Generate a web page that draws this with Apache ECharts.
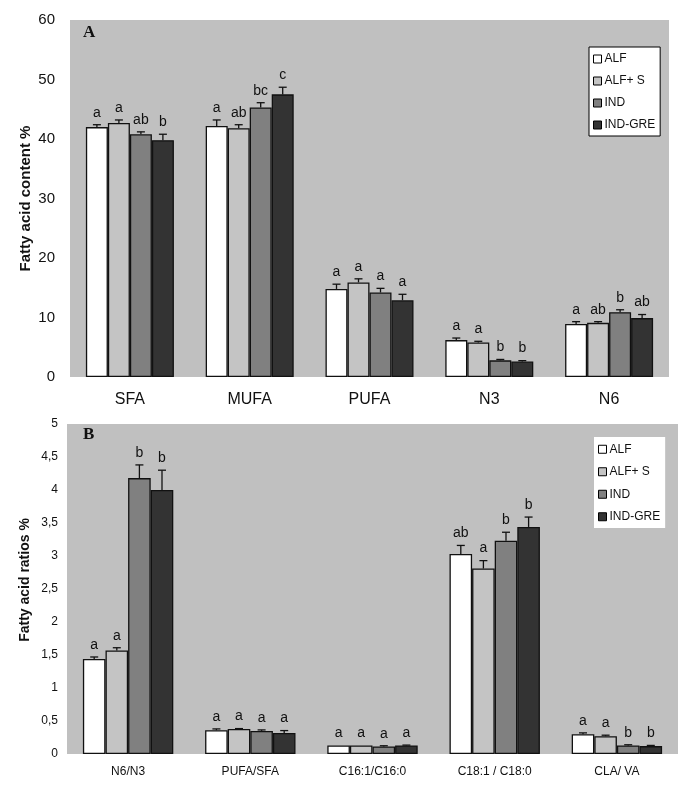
<!DOCTYPE html>
<html>
<head>
<meta charset="utf-8">
<script src="https://cdn.jsdelivr.net/npm/echarts@6/dist/echarts.min.js"></script>
<style>html,body{margin:0;padding:0;background:#fff}#c{width:685px;height:789px}</style>
</head>
<body>
<div id="c"></div>
<script>
// ---------- Data ----------
const groupNames = ['ALF', 'ALF+ S', 'IND', 'IND-GRE'];

// Panel A: fatty acid content %
const categoriesA = ['SFA', 'MUFA', 'PUFA', 'N3', 'N6'];
const alfA    = [42.0, 42.2, 14.8, 6.2, 8.9];
const alfSA   = [42.7, 41.8, 15.9, 5.8, 9.1];
const indA    = [40.8, 45.3, 14.2, 2.8, 10.9];
const indGreA = [39.8, 47.5, 12.9, 2.6, 9.9];
const errAlfA    = [0.4, 1.0, 0.8, 0.35, 0.4];
const errAlfSA   = [0.5, 0.6, 0.6, 0.2, 0.2];
const errIndA    = [0.4, 0.8, 0.7, 0.15, 0.4];
const errIndGreA = [1.0, 1.2, 1.0, 0.15, 0.6];
const letAlfA    = ['a', 'a', 'a', 'a', 'a'];
const letAlfSA   = ['a', 'ab', 'a', 'a', 'ab'];
const letIndA    = ['ab', 'bc', 'a', 'b', 'b'];
const letIndGreA = ['b', 'c', 'a', 'b', 'ab'];
const ticksA = [0, 10, 20, 30, 40, 50, 60];

// Panel B: fatty acid ratios %
const categoriesB = ['N6/N3', 'PUFA/SFA', 'C16:1/C16:0', 'C18:1 / C18:0', 'CLA/ VA'];
const alfB    = [1.44, 0.36, 0.13, 3.03, 0.30];
const alfSB   = [1.57, 0.38, 0.13, 2.81, 0.27];
const indB    = [4.18, 0.35, 0.115, 3.23, 0.13];
const indGreB = [4.00, 0.32, 0.13, 3.44, 0.12];
const errAlfB    = [0.03, 0.02, 0.0, 0.13, 0.02];
const errAlfSB   = [0.04, 0.005, 0.0, 0.12, 0.015];
const errIndB    = [0.2, 0.015, 0.01, 0.13, 0.01];
const errIndGreB = [0.3, 0.035, 0.005, 0.15, 0.01];
const letAlfB    = ['a', 'a', 'a', 'ab', 'a'];
const letAlfSB   = ['a', 'a', 'a', 'a', 'a'];
const letIndB    = ['b', 'a', 'a', 'b', 'b'];
const letIndGreB = ['b', 'a', 'a', 'b', 'b'];
const ticksB = [0, 0.5, 1, 1.5, 2, 2.5, 3, 3.5, 4, 4.5, 5];

// ---------- Styles ----------
const colors = ['#ffffff', '#c4c4c4', '#808080', '#333333'];
const FONT = '"Liberation Sans", Arial, sans-serif';
const SERIF = '"Liberation Serif", "Times New Roman", serif';
const BW_A = 22, BW_B = 22.6;

const valsA = [alfA, alfSA, indA, indGreA];
const errsA = [errAlfA, errAlfSA, errIndA, errIndGreA];
const letsA = [letAlfA, letAlfSA, letIndA, letIndGreA];
const valsB = [alfB, alfSB, indB, indGreB];
const errsB = [errAlfB, errAlfSB, errIndB, errIndGreB];
const letsB = [letAlfB, letAlfSB, letIndB, letIndGreB];

function errRenderer(k, bw, letters) {
  return function (params, api) {
    const cat = api.value(0), v = api.value(1), e = api.value(2);
    const base = api.coord([cat, v]);
    const top = api.coord([cat, v + e]);
    const cx = base[0] + (k - 1.5) * bw;
    const children = [];
    if (e > 0) {
      children.push({ type: 'line', shape: { x1: cx, y1: base[1], x2: cx, y2: top[1] },
        style: { stroke: '#111', lineWidth: 1.3 } });
      children.push({ type: 'line', shape: { x1: cx - 4, y1: top[1], x2: cx + 4, y2: top[1] },
        style: { stroke: '#111', lineWidth: 1.3 } });
    }
    children.push({ type: 'text', x: cx, y: top[1] - 5,
      style: { text: letters[params.dataIndex], fill: '#111', font: '14px ' + FONT,
               align: 'center', verticalAlign: 'bottom' } });
    return { type: 'group', children: children };
  };
}

const series = [];
function addPanel(vals, errs, lets, axisIdx, bw) {
  vals.forEach(function (arr, k) {
    series.push({
      name: groupNames[k], type: 'bar', xAxisIndex: axisIdx, yAxisIndex: axisIdx,
      data: arr, barWidth: bw, barGap: '0%',
      itemStyle: { color: colors[k], borderColor: '#111', borderWidth: 1.3 },
      emphasis: { disabled: true }, z: 2
    });
  });
  vals.forEach(function (arr, k) {
    series.push({
      name: 'err' + axisIdx + '_' + k, type: 'custom', xAxisIndex: axisIdx, yAxisIndex: axisIdx,
      data: arr.map(function (v, i) { return [i, v, errs[k][i]]; }),
      encode: { x: 0, y: 1 }, renderItem: errRenderer(k, bw, lets[k]), z: 5, clip: false
    });
  });
}
addPanel(valsA, errsA, letsA, 0, BW_A);
addPanel(valsB, errsB, letsB, 1, BW_B);

const chart = echarts.init(document.getElementById('c'), null, { renderer: 'canvas' });
chart.setOption({
  animation: false,
  backgroundColor: '#ffffff',
  grid: [
    { left: 70, right: 16, top: 20, height: 357, show: true, backgroundColor: '#c0c0c0', borderWidth: 0 },
    { left: 67, right: 7, top: 424, height: 330, show: true, backgroundColor: '#c0c0c0', borderWidth: 0 }
  ],
  xAxis: [
    { type: 'category', gridIndex: 0, data: categoriesA,
      axisLine: { show: false }, axisTick: { show: false },
      axisLabel: { margin: 15, fontSize: 16, fontFamily: FONT, color: '#111' } },
    { type: 'category', gridIndex: 1, data: categoriesB,
      axisLine: { show: false }, axisTick: { show: false },
      axisLabel: { margin: 12, fontSize: 12, fontFamily: FONT, color: '#111' } }
  ],
  yAxis: [
    { type: 'value', gridIndex: 0, min: ticksA[0], max: ticksA[ticksA.length - 1], interval: ticksA[1] - ticksA[0],
      splitLine: { show: false }, axisLine: { show: false }, axisTick: { show: false },
      axisLabel: { margin: 15, fontSize: 15, fontFamily: FONT, color: '#111' } },
    { type: 'value', gridIndex: 1, min: ticksB[0], max: ticksB[ticksB.length - 1], interval: ticksB[1] - ticksB[0],
      splitLine: { show: false }, axisLine: { show: false }, axisTick: { show: false },
      axisLabel: { margin: 9, fontSize: 12, fontFamily: FONT, color: '#111',
        formatter: function (v) { return String(v).replace('.', ','); } } }
  ],
  legend: [
    { orient: 'vertical', left: 589, top: 47, data: groupNames, icon: 'rect',
      itemWidth: 8, itemHeight: 8, itemGap: 0, padding: [1, 5, 0, 4],
      backgroundColor: '#ffffff', borderColor: '#000', borderWidth: 1, borderRadius: 0,
      itemStyle: { borderColor: '#000', borderWidth: 1 },
      textStyle: { fontSize: 12, fontFamily: FONT, color: '#111', lineHeight: 22, padding: [0, 0, 0, -2] },
      selectedMode: false },
    { orient: 'vertical', left: 594, top: 437, data: groupNames, icon: 'rect',
      itemWidth: 8, itemHeight: 8, itemGap: 0, padding: [1, 5, 0, 4],
      backgroundColor: '#ffffff', borderWidth: 0,
      itemStyle: { borderColor: '#000', borderWidth: 1 },
      textStyle: { fontSize: 12, fontFamily: FONT, color: '#111', lineHeight: 22.5, padding: [0, 0, 0, -2] },
      selectedMode: false }
  ],
  graphic: [
    { type: 'text', x: 25.5, y: 198.5, rotation: Math.PI / 2,
      style: { text: 'Fatty acid content %', font: 'bold 15px ' + FONT, fill: '#111', align: 'center', verticalAlign: 'middle' } },
    { type: 'text', x: 25.5, y: 580, rotation: Math.PI / 2,
      style: { text: 'Fatty acid ratios %', font: 'bold 14px ' + FONT, fill: '#111', align: 'center', verticalAlign: 'middle' } },
    { type: 'text', x: 83, y: 33, style: { text: 'A', font: 'bold 17px ' + SERIF, fill: '#111', align: 'left', verticalAlign: 'middle' } },
    { type: 'text', x: 83, y: 435, style: { text: 'B', font: 'bold 17px ' + SERIF, fill: '#111', align: 'left', verticalAlign: 'middle' } }
  ],
  series: series
});
</script>
</body>
</html>
